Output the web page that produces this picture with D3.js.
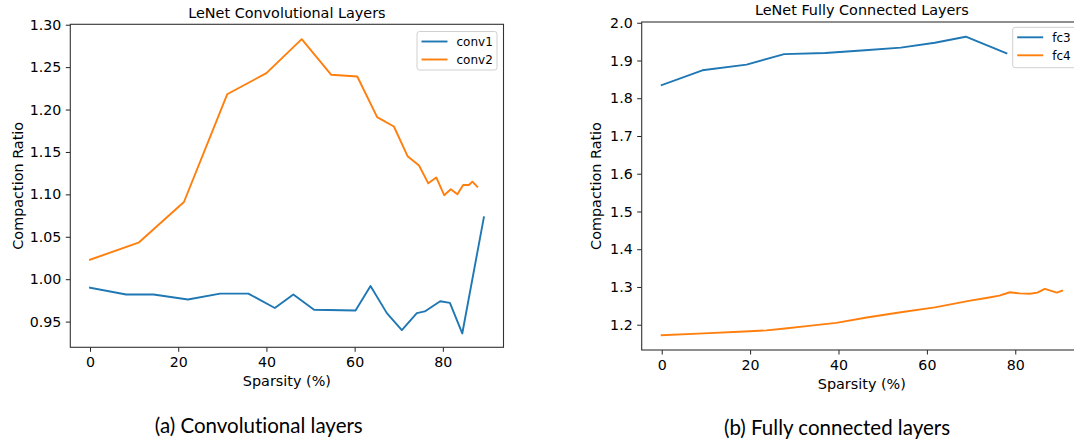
<!DOCTYPE html>
<html>
<head>
<meta charset="utf-8">
<script src="https://cdn.jsdelivr.net/npm/d3@7"></script>
<style>
  html, body { margin: 0; padding: 0; background: #fff; }
  svg { display: block; }
  text { font-family: "DejaVu Sans", sans-serif; fill: #000; }
  text.caption { font-variant-ligatures: none; font-feature-settings: "liga" 0, "clig" 0; }
</style>
</head>
<body>
<svg id="chart" width="1074" height="444"></svg>
<script>
// ---- Data ----
const sparsityTicks = [0, 20, 40, 60, 80];
const convYTicks = [0.95, 1.00, 1.05, 1.10, 1.15, 1.20, 1.25, 1.30];
const fcYTicks = [1.2, 1.3, 1.4, 1.5, 1.6, 1.7, 1.8, 1.9, 2.0];

const conv1X = [0, 8.2, 14.4, 22.2, 29.5, 35.9, 41.9, 46.1, 50.8, 60.2, 63.6, 67.3, 70.7, 74.1, 75.9, 79.4, 81.6, 84.4, 89.3];
const conv1Y = [0.990, 0.982, 0.982, 0.976, 0.983, 0.983, 0.966, 0.982, 0.964, 0.963, 0.992, 0.960, 0.940, 0.960, 0.962, 0.974, 0.972, 0.936, 1.073];

const conv2X = [0, 11.0, 21.3, 31.1, 40.0, 48.0, 54.7, 60.6, 65.1, 68.9, 72.0, 74.6, 76.7, 78.5, 80.3, 81.8, 83.3, 84.6, 85.9, 86.7, 87.8];
const conv2Y = [1.023, 1.043, 1.091, 1.218, 1.243, 1.283, 1.241, 1.239, 1.191, 1.180, 1.145, 1.134, 1.113, 1.120, 1.099, 1.106, 1.100, 1.111, 1.111, 1.115, 1.109];

const fc3X = [0, 9.2, 19.2, 27.7, 37.0, 46.0, 54.1, 61.8, 68.8, 78.0];
const fc3Y = [1.835, 1.874, 1.889, 1.917, 1.920, 1.927, 1.934, 1.947, 1.963, 1.919];

const fc4X = [0, 9.5, 18.7, 23.7, 27.9, 33.3, 39.5, 46.4, 54.1, 61.8, 69.5, 74.1, 76.4, 78.8, 81.0, 83.3, 85.0, 86.7, 89.4, 90.6];
const fc4Y = [1.172, 1.177, 1.182, 1.185, 1.190, 1.197, 1.205, 1.219, 1.233, 1.246, 1.263, 1.272, 1.277, 1.286, 1.283, 1.282, 1.285, 1.295, 1.285, 1.290];

const panels = [
  {
    title: "LeNet Convolutional Layers",
    caption: "(a) Convolutional layers",
    xDomain: [-4.47, 93.75], yDomain: [0.9197, 1.3005],
    box: {l: 70.3, r: 503.5, t: 24.3, b: 347.3},
    yTicks: convYTicks, yFmt: d3.format(".2f"),
    series: [
      {name: "conv1", xs: conv1X, ys: conv1Y, color: "#1f77b4"},
      {name: "conv2", xs: conv2X, ys: conv2Y, color: "#ff7f0e"}
    ],
    legend: {x: 417, y: 31.5, w: 80, h: 38.5},
    yLabelX: 22.5, titleY: 17.5, xLabelY: 386, captionX: 258.8, captionY: 433
  },
  {
    title: "LeNet Fully Connected Layers",
    caption: "(b) Fully connected layers",
    xDomain: [-4.53, 95.1], yDomain: [1.133, 2.002],
    box: {l: 641.7, r: 1082, t: 22, b: 350},
    yTicks: fcYTicks, yFmt: d3.format(".1f"),
    series: [
      {name: "fc3", xs: fc3X, ys: fc3Y, color: "#1f77b4"},
      {name: "fc4", xs: fc4X, ys: fc4Y, color: "#ff7f0e"}
    ],
    legend: {x: 1012.7, y: 27.3, w: 64, h: 40.4},
    yLabelX: 601, titleY: 14.8, xLabelY: 389, captionX: 837, captionY: 434.5
  }
];

const svg = d3.select("#chart");
svg.append("rect").attr("width", 1074).attr("height", 444).attr("fill", "#fff");

panels.forEach(p => {
  const b = p.box;
  const x = d3.scaleLinear().domain(p.xDomain).range([b.l, b.r]);
  const y = d3.scaleLinear().domain(p.yDomain).range([b.b, b.t]);
  const g = svg.append("g");

  // lines
  const line = d3.line().x(d => x(d[0])).y(d => y(d[1]));
  p.series.forEach(s => {
    const pts = s.xs.map((v, i) => [v, s.ys[i]]);
    g.append("path").datum(pts).attr("d", line)
      .attr("fill", "none").attr("stroke", s.color)
      .attr("stroke-width", 1.9).attr("stroke-linejoin", "round").attr("stroke-linecap", "square");
  });

  // axes
  const xAxis = d3.axisBottom(x).tickValues(sparsityTicks).tickSizeOuter(0).tickSize(4.5).tickPadding(5.5).tickFormat(d3.format("d"));
  const yAxis = d3.axisLeft(y).tickValues(p.yTicks).tickSizeOuter(0).tickSize(4.5).tickPadding(4.5).tickFormat(p.yFmt);
  const gx = g.append("g").attr("transform", `translate(0,${b.b})`).call(xAxis);
  const gy = g.append("g").attr("transform", `translate(${b.l},0)`).call(yAxis);
  [gx, gy].forEach(a => {
    a.select(".domain").remove();
    a.selectAll(".tick line").attr("stroke", "#222").attr("stroke-width", 1);
    a.selectAll(".tick text").attr("font-size", 14.2).attr("font-family", "DejaVu Sans").attr("fill", "#111");
  });

  // spines
  g.append("rect").attr("x", b.l).attr("y", b.t).attr("width", b.r - b.l).attr("height", b.b - b.t)
    .attr("fill", "none").attr("stroke", "#333").attr("stroke-width", 1.1);

  // title and labels
  g.append("text").attr("x", (b.l + b.r) / 2).attr("y", p.titleY).attr("text-anchor", "middle")
    .attr("font-size", 14.4).text(p.title);
  g.append("text").attr("x", (b.l + b.r) / 2).attr("y", p.xLabelY).attr("text-anchor", "middle")
    .attr("font-size", 14.4).text("Sparsity (%)");
  g.append("text").attr("transform", `translate(${p.yLabelX},${(b.t + b.b) / 2}) rotate(-90)`)
    .attr("text-anchor", "middle").attr("font-size", 14.4).text("Compaction Ratio");

  // legend
  const L = p.legend;
  const lg = g.append("g");
  lg.append("rect").attr("x", L.x).attr("y", L.y).attr("width", L.w).attr("height", L.h)
    .attr("rx", 2.5).attr("fill", "#fff").attr("fill-opacity", 0.85)
    .attr("stroke", "#d0d0d0").attr("stroke-width", 1);
  p.series.forEach((s, i) => {
    const yy = L.y + 10 + i * 18;
    lg.append("line").attr("x1", L.x + 4.5).attr("x2", L.x + 30.5).attr("y1", yy).attr("y2", yy)
      .attr("stroke", s.color).attr("stroke-width", 1.9);
    lg.append("text").attr("x", L.x + 39.5).attr("y", yy).attr("dy", "0.36em")
      .attr("font-size", 12).text(s.name);
  });

  // caption
  svg.append("text").attr("class", "caption").attr("x", p.captionX).attr("y", p.captionY)
    .attr("text-anchor", "middle").attr("font-size", 17)
    .style("font-family", "Lato, sans-serif").text(p.caption);
});

// size captions to the reference width of caption (a)
const caps = svg.selectAll("text.caption").nodes();
const w0 = caps[0].getComputedTextLength();
const fs = 17 * 208 / w0;
caps.forEach(n => d3.select(n).attr("font-size", fs));
</script>
</body>
</html>
